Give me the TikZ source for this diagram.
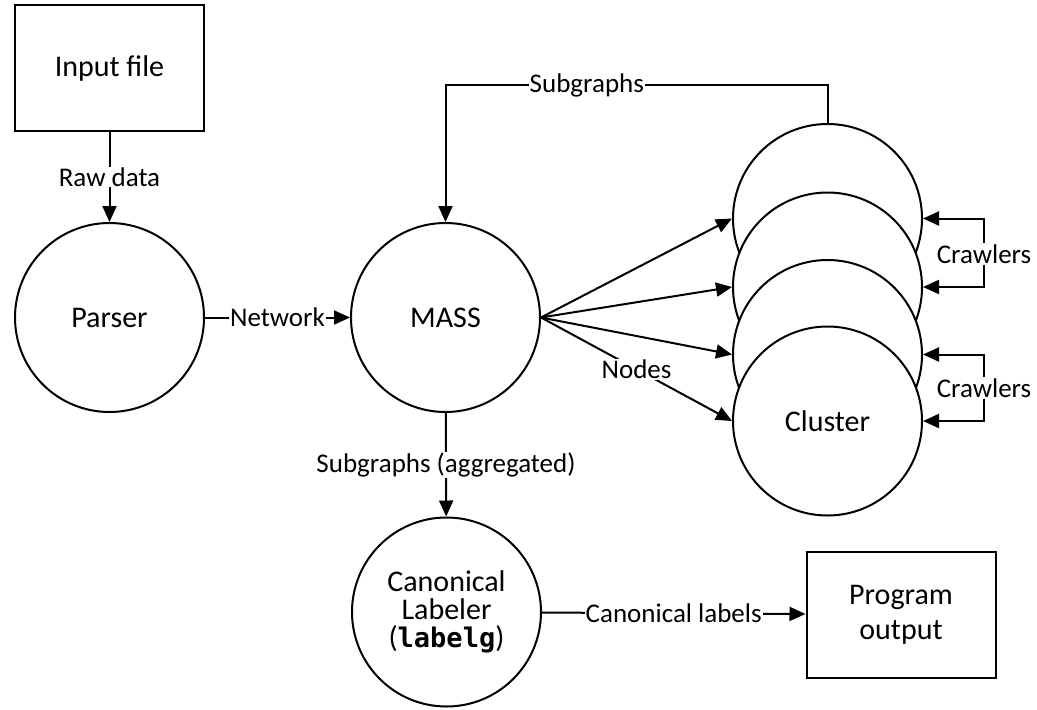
\documentclass[tikz,border=0pt]{standalone}
\usepackage{fontspec}
\setmainfont{Carlito}
\newfontfamily\codefont{DejaVu Sans Mono}
\usetikzlibrary{arrows.meta}
\begin{document}
\begin{tikzpicture}[x=1pt,y=-1pt,
  proc/.style={circle, draw, fill=white, minimum size=189pt, inner sep=0pt, line width=2pt, font=\fontsize{30}{28}\selectfont, align=center},
  io/.style={rectangle, draw, fill=white, minimum width=189pt, minimum height=126pt, inner sep=0pt, line width=2pt, font=\fontsize{30}{35}\selectfont, align=center},
  arr/.style={-{Triangle[length=16pt,width=14pt]}, line width=2pt},
  lbl/.style={fill=white, inner sep=1pt, font=\fontsize{27}{30}\selectfont}
]
\useasboundingbox (0,0) rectangle (1037,710);

\node[io] (input) at (109.5,68) {Input file};
\node[proc] (parser) at (109.5,317.5) {Parser};
\node[proc] (mass) at (445.5,317.5) {MASS};
\node[proc] (c1) at (827.5,218.5) {};
\node[proc] (c2) at (827.5,287) {};
\node[proc] (c3) at (827.5,354.5) {};
\node[proc] (c4) at (827.5,421) {Cluster};
\node[proc] (canon) at (446.5,612) {Canonical\\Labeler\\({\codefont\bfseries\fontsize{27}{28}\selectfont labelg})};
\node[io] (out) at (901,614.5) {Program\\output};

\coordinate (top) at (0,85);

\draw[arr] (input) -- node[lbl]{Raw data} (parser);
\draw[arr] (parser) -- node[lbl]{Network} (mass);
\draw[arr] (c1.north) -- (c1.north |- top) -- node[lbl,pos=0.63]{Subgraphs} (mass.north |- top) -- (mass.north);
\draw[arr] (mass.east) -- (c1.west);
\draw[arr] (mass.east) -- (c2.west);
\draw[arr] (mass.east) -- (c3.west);
\draw[arr] (mass.east) -- node[lbl]{Nodes} (c4.west);
\draw[arr] (mass) -- node[lbl]{Subgraphs (aggregated)} (canon);
\draw[arr] (canon) -- node[lbl]{Canonical labels} (out);

\node[lbl] (cr1) at (984,254) {Crawlers};
\node[lbl] (cr2) at (984,388) {Crawlers};
\draw[arr] (cr1.north) |- (c1.east);
\draw[arr] (cr1.south) |- (c2.east);
\draw[arr] (cr2.north) |- (c3.east);
\draw[arr] (cr2.south) |- (c4.east);
\end{tikzpicture}
\end{document}
